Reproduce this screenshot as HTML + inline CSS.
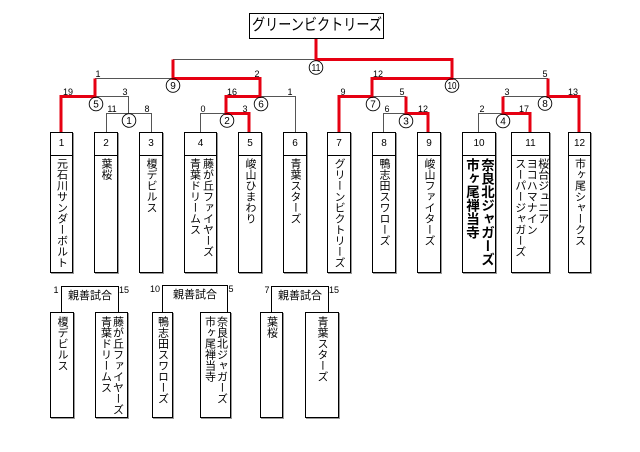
<!DOCTYPE html>
<html><head><meta charset="utf-8">
<style>
html,body{margin:0;padding:0;background:#fff;}
body{width:640px;height:452px;position:relative;overflow:hidden;}
.b{position:absolute;border:1px solid #000;box-sizing:border-box;background:#fff;box-shadow:1px 1px 0 #999;}
.h{height:22px;border-bottom:1px solid #000;font:10px/22px "Liberation Sans",sans-serif;text-align:center;color:#000;}
.t{display:flex;justify-content:center;padding-top:2px;}
.v{writing-mode:vertical-rl;font-family:"Liberation Sans","Noto Sans CJK JP",sans-serif;font-size:11px;line-height:12px;white-space:nowrap;height:112px;color:#000;}
.title{position:absolute;left:249px;top:13px;width:135px;height:26px;border:1px solid #000;box-sizing:border-box;overflow:hidden;}
.title span{position:absolute;left:50%;top:0;font-family:"Liberation Sans","Noto Sans CJK JP",sans-serif;font-size:16px;line-height:24px;transform:translateX(-50%) scaleX(0.82);white-space:nowrap;color:#000;}
svg{position:absolute;left:0;top:0;}
</style></head>
<body>
<svg width="640" height="452" viewBox="0 0 640 452" xmlns="http://www.w3.org/2000/svg">
 <g stroke="#555" stroke-width="1" fill="none">
  <path d="M173 59.5 H316"/>
  <path d="M95 78.5 H173"/>
  <path d="M452 78.5 H548"/>
  <path d="M95 96.5 H128.5 V113"/>
  <path d="M260 96.5 H295.5 V132"/>
  <path d="M372 96.5 H406"/>
  <path d="M503 96.5 H548"/>
  <path d="M106.5 132 V113.5 H151.5 V132"/>
  <path d="M200.5 132 V113.5 H226"/>
  <path d="M383.5 132 V113.5 H406"/>
  <path d="M478.5 132 V113.5 H503"/>
 </g>
 <g stroke="#e60012" stroke-width="3" fill="none" stroke-linejoin="miter">
  <path d="M316 38 V59.5 H452 V78.5 H372 V96.5 H339 V132"/>
  <path d="M173 59.5 V78.5 H260 V96.5 H226 V113.5 H249 V132"/>
  <path d="M95 78.5 V96.5 H61 V132"/>
  <path d="M548 78.5 V96.5 H579 V132"/>
  <path d="M406 96.5 V113.5 H428 V132"/>
  <path d="M503 96.5 V113.5 H530 V132"/>
 </g>
 <g fill="none" stroke="#000" stroke-width="0.9">
  <circle cx="316" cy="67.5" r="6.8"/>
  <circle cx="173" cy="85.5" r="6.8"/>
  <circle cx="452" cy="85.5" r="6.8"/>
  <circle cx="96" cy="104" r="6.8"/>
  <circle cx="261" cy="104" r="6.8"/>
  <circle cx="373" cy="104" r="6.8"/>
  <circle cx="545" cy="103.5" r="6.8"/>
  <circle cx="129" cy="120.5" r="6.8"/>
  <circle cx="227" cy="120.5" r="6.8"/>
  <circle cx="406" cy="121" r="6.8"/>
  <circle cx="503" cy="121" r="6.8"/>
 </g>
 <g font-family="Liberation Sans, sans-serif" font-size="10" fill="#000" text-anchor="middle">
  <text x="316" y="71" textLength="9" lengthAdjust="spacingAndGlyphs">11</text>
  <text x="173" y="89">9</text>
  <text x="452" y="89" textLength="9" lengthAdjust="spacingAndGlyphs">10</text>
  <text x="96" y="107.5">5</text>
  <text x="261" y="107.5">6</text>
  <text x="373" y="107.5">7</text>
  <text x="545" y="107">8</text>
  <text x="129" y="124">1</text>
  <text x="227" y="124">2</text>
  <text x="406" y="124.5">3</text>
  <text x="503" y="124.5">4</text>
 </g>
 <g font-family="Liberation Sans, sans-serif" font-size="9" fill="#000" text-anchor="middle">
  <text x="98" y="77">1</text>
  <text x="257" y="77">2</text>
  <text x="378" y="77">12</text>
  <text x="545" y="77">5</text>
  <text x="68" y="95">19</text>
  <text x="125" y="95">3</text>
  <text x="232" y="95">16</text>
  <text x="290" y="95">1</text>
  <text x="343" y="95">9</text>
  <text x="402" y="95">5</text>
  <text x="507" y="95">3</text>
  <text x="573" y="95">13</text>
  <text x="112" y="112">11</text>
  <text x="147" y="112">8</text>
  <text x="203" y="112">0</text>
  <text x="245" y="112">3</text>
  <text x="387" y="112">6</text>
  <text x="423" y="112">12</text>
  <text x="482" y="112">2</text>
  <text x="524" y="112">17</text>
 </g>
 <g stroke="#000" stroke-width="1" fill="none">
  <path d="M61.5 312 V286.5 H118.5 V312"/>
  <path d="M162.5 312 V285.5 H227.5 V312"/>
  <path d="M271.5 312 V286.5 H328.5 V312"/>
 </g>
 <g font-family="Liberation Sans, sans-serif" font-size="9" fill="#000" text-anchor="middle">
  <text x="56" y="293">1</text>
  <text x="124" y="293">15</text>
  <text x="155" y="292">10</text>
  <text x="231" y="292">5</text>
  <text x="267" y="293">7</text>
  <text x="334" y="293">15</text>
 </g>
 <g font-family="Liberation Sans, Noto Sans CJK JP, sans-serif" font-size="11" fill="#000" text-anchor="middle">
  <text x="90" y="299">親善試合</text>
  <text x="195" y="298">親善試合</text>
  <text x="300" y="299">親善試合</text>
 </g>
</svg>

<div class="title"><span>グリーンビクトリーズ</span></div>

<div class="b" style="left:50px;top:132px;width:23px;height:141px"><div class="h">1</div><div class="t"><div class="v">元石川サンダーボルト</div></div></div>
<div class="b" style="left:94px;top:132px;width:24px;height:141px"><div class="h">2</div><div class="t"><div class="v">葉桜</div></div></div>
<div class="b" style="left:139px;top:132px;width:24px;height:141px"><div class="h">3</div><div class="t"><div class="v">榎デビルス</div></div></div>
<div class="b" style="left:184px;top:132px;width:33px;height:141px"><div class="h">4</div><div class="t"><div class="v" style="line-height:13px">藤が丘ファイヤーズ<br>青葉ドリームス</div></div></div>
<div class="b" style="left:238px;top:132px;width:24px;height:141px"><div class="h">5</div><div class="t"><div class="v">峻山ひまわり</div></div></div>
<div class="b" style="left:283px;top:132px;width:24px;height:141px"><div class="h">6</div><div class="t"><div class="v">青葉スターズ</div></div></div>
<div class="b" style="left:327px;top:132px;width:24px;height:141px"><div class="h">7</div><div class="t"><div class="v">グリーンビクトリーズ</div></div></div>
<div class="b" style="left:372px;top:132px;width:24px;height:141px"><div class="h">8</div><div class="t"><div class="v">鴨志田スワローズ</div></div></div>
<div class="b" style="left:417px;top:132px;width:24px;height:141px"><div class="h">9</div><div class="t"><div class="v">峻山ファイターズ</div></div></div>
<div class="b" style="left:462px;top:132px;width:34px;height:141px"><div class="h">10</div><div class="t"><div class="v" style="font-size:13.5px;line-height:15px;font-weight:bold">奈良北ジャガーズ<br>市ヶ尾禅当寺</div></div></div>
<div class="b" style="left:511px;top:132px;width:39px;height:141px"><div class="h">11</div><div class="t"><div class="v" style="line-height:11.5px">桜台ジュニア<br>ヨコハマナイン<br>スーパージャガーズ</div></div></div>
<div class="b" style="left:568px;top:132px;width:23px;height:141px"><div class="h">12</div><div class="t"><div class="v">市ヶ尾シャークス</div></div></div>

<div class="b" style="left:50px;top:312px;width:24px;height:106px"><div class="t" style="padding-top:3px"><div class="v" style="height:100px">榎デビルス</div></div></div>
<div class="b" style="left:95px;top:312px;width:33px;height:106px"><div class="t" style="padding-top:3px"><div class="v" style="height:100px">藤が丘ファイヤーズ<br>青葉ドリームス</div></div></div>
<div class="b" style="left:152px;top:312px;width:21px;height:106px"><div class="t" style="padding-top:3px"><div class="v" style="height:100px">鴨志田スワローズ</div></div></div>
<div class="b" style="left:200px;top:312px;width:31px;height:106px"><div class="t" style="padding-top:3px"><div class="v" style="height:100px">奈良北ジャガーズ<br>市ヶ尾禅当寺</div></div></div>
<div class="b" style="left:260px;top:312px;width:23px;height:106px"><div class="t" style="padding-top:3px"><div class="v" style="height:100px">葉桜</div></div></div>
<div class="b" style="left:305px;top:312px;width:34px;height:106px"><div class="t" style="padding-top:3px"><div class="v" style="height:100px">青葉スターズ</div></div></div>
</body></html>
